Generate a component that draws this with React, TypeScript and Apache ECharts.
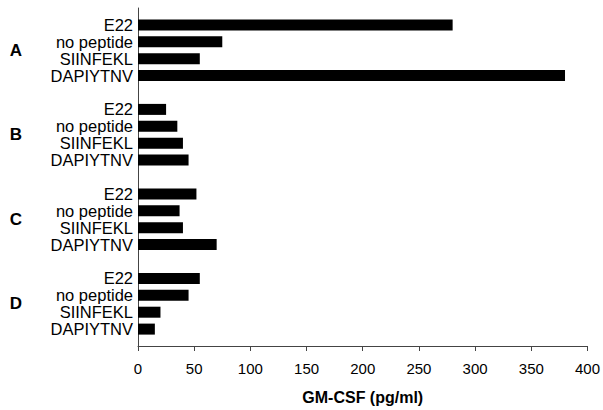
import React, { useEffect, useRef } from "react";
import * as echarts from "echarts";

const groups = ["A", "B", "C", "D"];
const peptides = ["E22", "no peptide", "SIINFEKL", "DAPIYTNV"];
const groupA = [280, 75, 55, 380];
const groupB = [25, 35, 40, 45];
const groupC = [52, 37, 40, 70];
const groupD = [55, 45, 20, 15];
const xTicks = { min: 0, max: 400, interval: 50 };
const axisTitle = "GM-CSF (pg/ml)";

export default function App() {
  const ref = useRef<HTMLDivElement>(null);
  useEffect(() => {
    if (!ref.current) return;
    document.body.style.margin = "0";
    document.body.style.overflow = "hidden";
    const chart = echarts.init(ref.current, null, { renderer: "svg" });
    const groupValues = [groupA, groupB, groupC, groupD];
    const cats: string[] = [];
    const vals: (number | string)[] = [];
    groups.forEach((g, gi) => {
      cats.push("gap" + gi);
      vals.push("-");
      peptides.forEach((p, pi) => {
        cats.push(g + "|" + p);
        vals.push(groupValues[gi][pi]);
      });
    });
    cats.push("gapEnd");
    vals.push("-");
    const halfCats: string[] = [];
    for (let i = 0; i < cats.length * 2 - 1; i++) halfCats.push("h" + i);
    groups.forEach((g, gi) => {
      const idx = (gi * 5 + 2) * 2 + 1;
      halfCats[idx] = g;
    });

    chart.setOption({
      animation: false,
      backgroundColor: "#fff",
      grid: { left: 138, right: 15, top: 8, bottom: 62, containLabel: false },
      xAxis: {
        type: "value",
        min: xTicks.min,
        max: xTicks.max,
        interval: xTicks.interval,
        name: axisTitle,
        nameLocation: "middle",
        nameGap: 43,
        nameTextStyle: {
          fontFamily: "Liberation Sans, Arial, sans-serif",
          fontSize: 16,
          fontWeight: "bold",
          color: "#000",
        },
        axisLine: { show: true, lineStyle: { color: "#444", width: 1 } },
        axisTick: { show: true, length: 5, lineStyle: { color: "#444" } },
        axisLabel: {
          margin: 15,
          fontFamily: "Liberation Sans, Arial, sans-serif",
          fontSize: 15,
          color: "#000",
        },
        splitLine: { show: false },
      },
      yAxis: [
        {
          type: "category",
          data: cats,
          inverse: true,
          boundaryGap: false,
          axisLine: { show: true, lineStyle: { color: "#444", width: 1 } },
          axisTick: { show: false },
          axisLabel: {
            interval: 0,
            margin: 5,
            fontFamily: "Liberation Sans, Arial, sans-serif",
            fontSize: 16.5,
            color: "#000",
            formatter: (v: string) => (v.includes("|") ? v.split("|")[1] : ""),
          },
          splitLine: { show: false },
        },
        {
          type: "category",
          data: halfCats,
          inverse: true,
          boundaryGap: false,
          position: "left",
          axisLine: { show: false },
          axisTick: { show: false },
          axisLabel: {
            interval: 0,
            margin: 116,
            fontFamily: "Liberation Sans, Arial, sans-serif",
            fontSize: 17,
            fontWeight: "bold",
            color: "#000",
            formatter: (v: string) => (groups.includes(v) ? v : ""),
          },
          splitLine: { show: false },
        },
      ],
      series: [
        {
          type: "bar",
          yAxisIndex: 0,
          data: vals,
          barWidth: 11,
          itemStyle: { color: "#000" },
        },
      ],
    });
    return () => chart.dispose();
  }, []);
  return (
    <div
      ref={ref}
      style={{ position: "fixed", left: 0, top: 0, width: 603, height: 410 }}
    />
  );
}
